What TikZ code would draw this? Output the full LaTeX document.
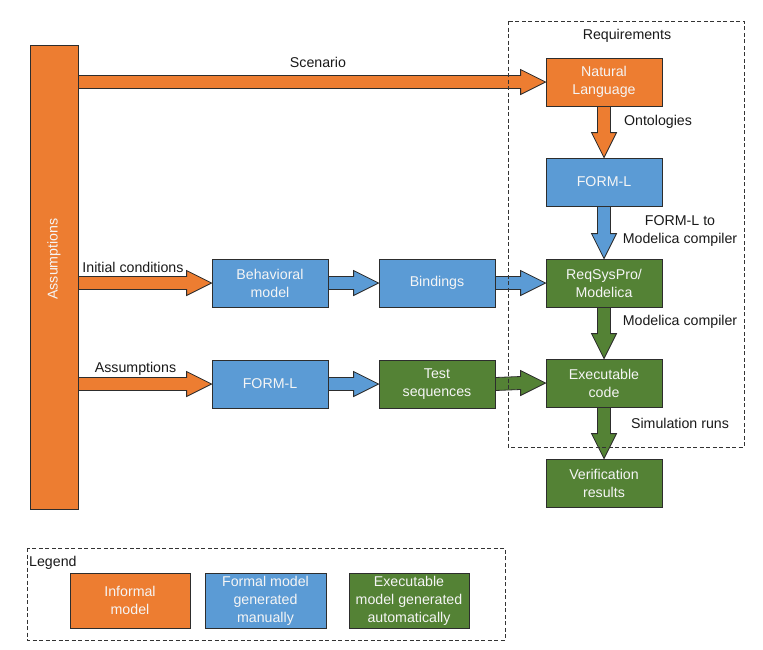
\documentclass[tikz,border=0pt]{standalone}
\usepackage{fontspec}
\setmainfont{Liberation Sans}
\usetikzlibrary{calc}
\definecolor{orng}{RGB}{237,125,49}
\definecolor{blu}{RGB}{91,155,213}
\definecolor{grn}{RGB}{84,130,53}
\definecolor{edge}{RGB}{45,45,45}
\definecolor{boxtext}{RGB}{245,245,245}
\newcommand{\hfat}[3]{\draw[fatline,fill=#3] ($(#1)+(0,-6.5)$) -- ($(#2)+(-25,-6.5)$) -- ($(#2)+(-25,-12.5)$) -- (#2) -- ($(#2)+(-25,12.5)$) -- ($(#2)+(-25,6.5)$) -- ($(#1)+(0,6.5)$) -- cycle;}
\newcommand{\vfat}[3]{\draw[fatline,fill=#3] ($(#1)+(-6.5,0)$) -- ($(#2)+(-6.5,-25)$) -- ($(#2)+(-12.5,-25)$) -- (#2) -- ($(#2)+(12.5,-25)$) -- ($(#2)+(6.5,-25)$) -- ($(#1)+(6.5,0)$) -- cycle;}
\begin{document}
\begin{tikzpicture}[x=1pt,y=-1pt,
  font=\fontsize{14.2}{18}\selectfont,
  box/.style={draw=edge,line width=0.8pt,minimum width=116pt,minimum height=48pt,inner sep=0pt,align=center,text=boxtext},
  orbox/.style={box,fill=orng},
  blbox/.style={box,fill=blu},
  grbox/.style={box,fill=grn},
  lbl/.style={text=black!90,inner sep=0pt,align=center},
  fatline/.style={draw=edge,line width=0.8pt},
  dashbox/.style={draw=black!80,line width=0.8pt,dash pattern=on 4pt off 2.5pt}]
\useasboundingbox (0,0) rectangle (763,649);
% nodes
\node[orbox,minimum width=48pt,minimum height=464pt] (bar) at (54,277) {};
\node[text=boxtext,rotate=90] (bartext) at (54,259) {Assumptions};
\node[orbox] (nl) at (604,82) {Natural\\Language};
\node[blbox] (fr) at (604,182) {FORM-L};
\node[grbox] (rsp) at (604,283) {ReqSysPro/\\Modelica};
\node[grbox] (exe) at (604,383) {Executable\\code};
\node[grbox] (ver) at (604,483) {Verification\\results};
\node[blbox] (beh) at (270,283) {Behavioral\\model};
\node[blbox] (bin) at (437,283) {Bindings};
\node[blbox] (fl) at (270,384) {FORM-L};
\node[grbox] (ts) at (437,384) {Test\\sequences};
% labels
\node[lbl] (scen) at (318,62) {Scenario};
\node[lbl] (req) at (627,36) {Requirements};
\node[lbl] (ont) at (658,122) {Ontologies};
\node[lbl] (fmc) at (680,231) {FORM-L to\\Modelica compiler};
\node[lbl] (mc) at (680,322) {Modelica compiler};
\node[lbl] (sim) at (680,423) {Simulation runs};
\node[lbl] (ic) at (133,267) {Initial conditions};
\node[lbl] (asl) at (135.5,369) {Assumptions};
% arrows
\coordinate (s1) at (bar.east|-nl.west);
\coordinate (s2) at (bar.east|-beh.west);
\coordinate (s3) at (bar.east|-fl.west);
\hfat{s1}{nl.west}{orng}
\hfat{s2}{beh.west}{orng}
\hfat{s3}{fl.west}{orng}
\hfat{beh.east}{bin.west}{blu}
\hfat{bin.east}{rsp.west}{blu}
\hfat{fl.east}{ts.west}{blu}
\hfat{ts.east}{exe.west}{grn}
\vfat{nl.south}{fr.north}{orng}
\vfat{fr.south}{rsp.north}{blu}
\vfat{rsp.south}{exe.north}{grn}
\vfat{exe.south}{ver.north}{grn}
% dashed boxes
\draw[dashbox] (508,21) rectangle (744,447);
\draw[dashbox] (27,548) rectangle (505,640);
\node[lbl,anchor=west] (leg) at (29,563) {Legend};
\node[orbox,minimum width=120pt,minimum height=55pt] (l1) at (130,600.5) {Informal\\model};
\node[blbox,minimum width=121pt,minimum height=55pt] (l2) at (265.5,600.5) {Formal model\\generated\\manually};
\node[grbox,minimum width=120pt,minimum height=55pt] (l3) at (409,600.5) {Executable\\model generated\\automatically};
\end{tikzpicture}
\end{document}
